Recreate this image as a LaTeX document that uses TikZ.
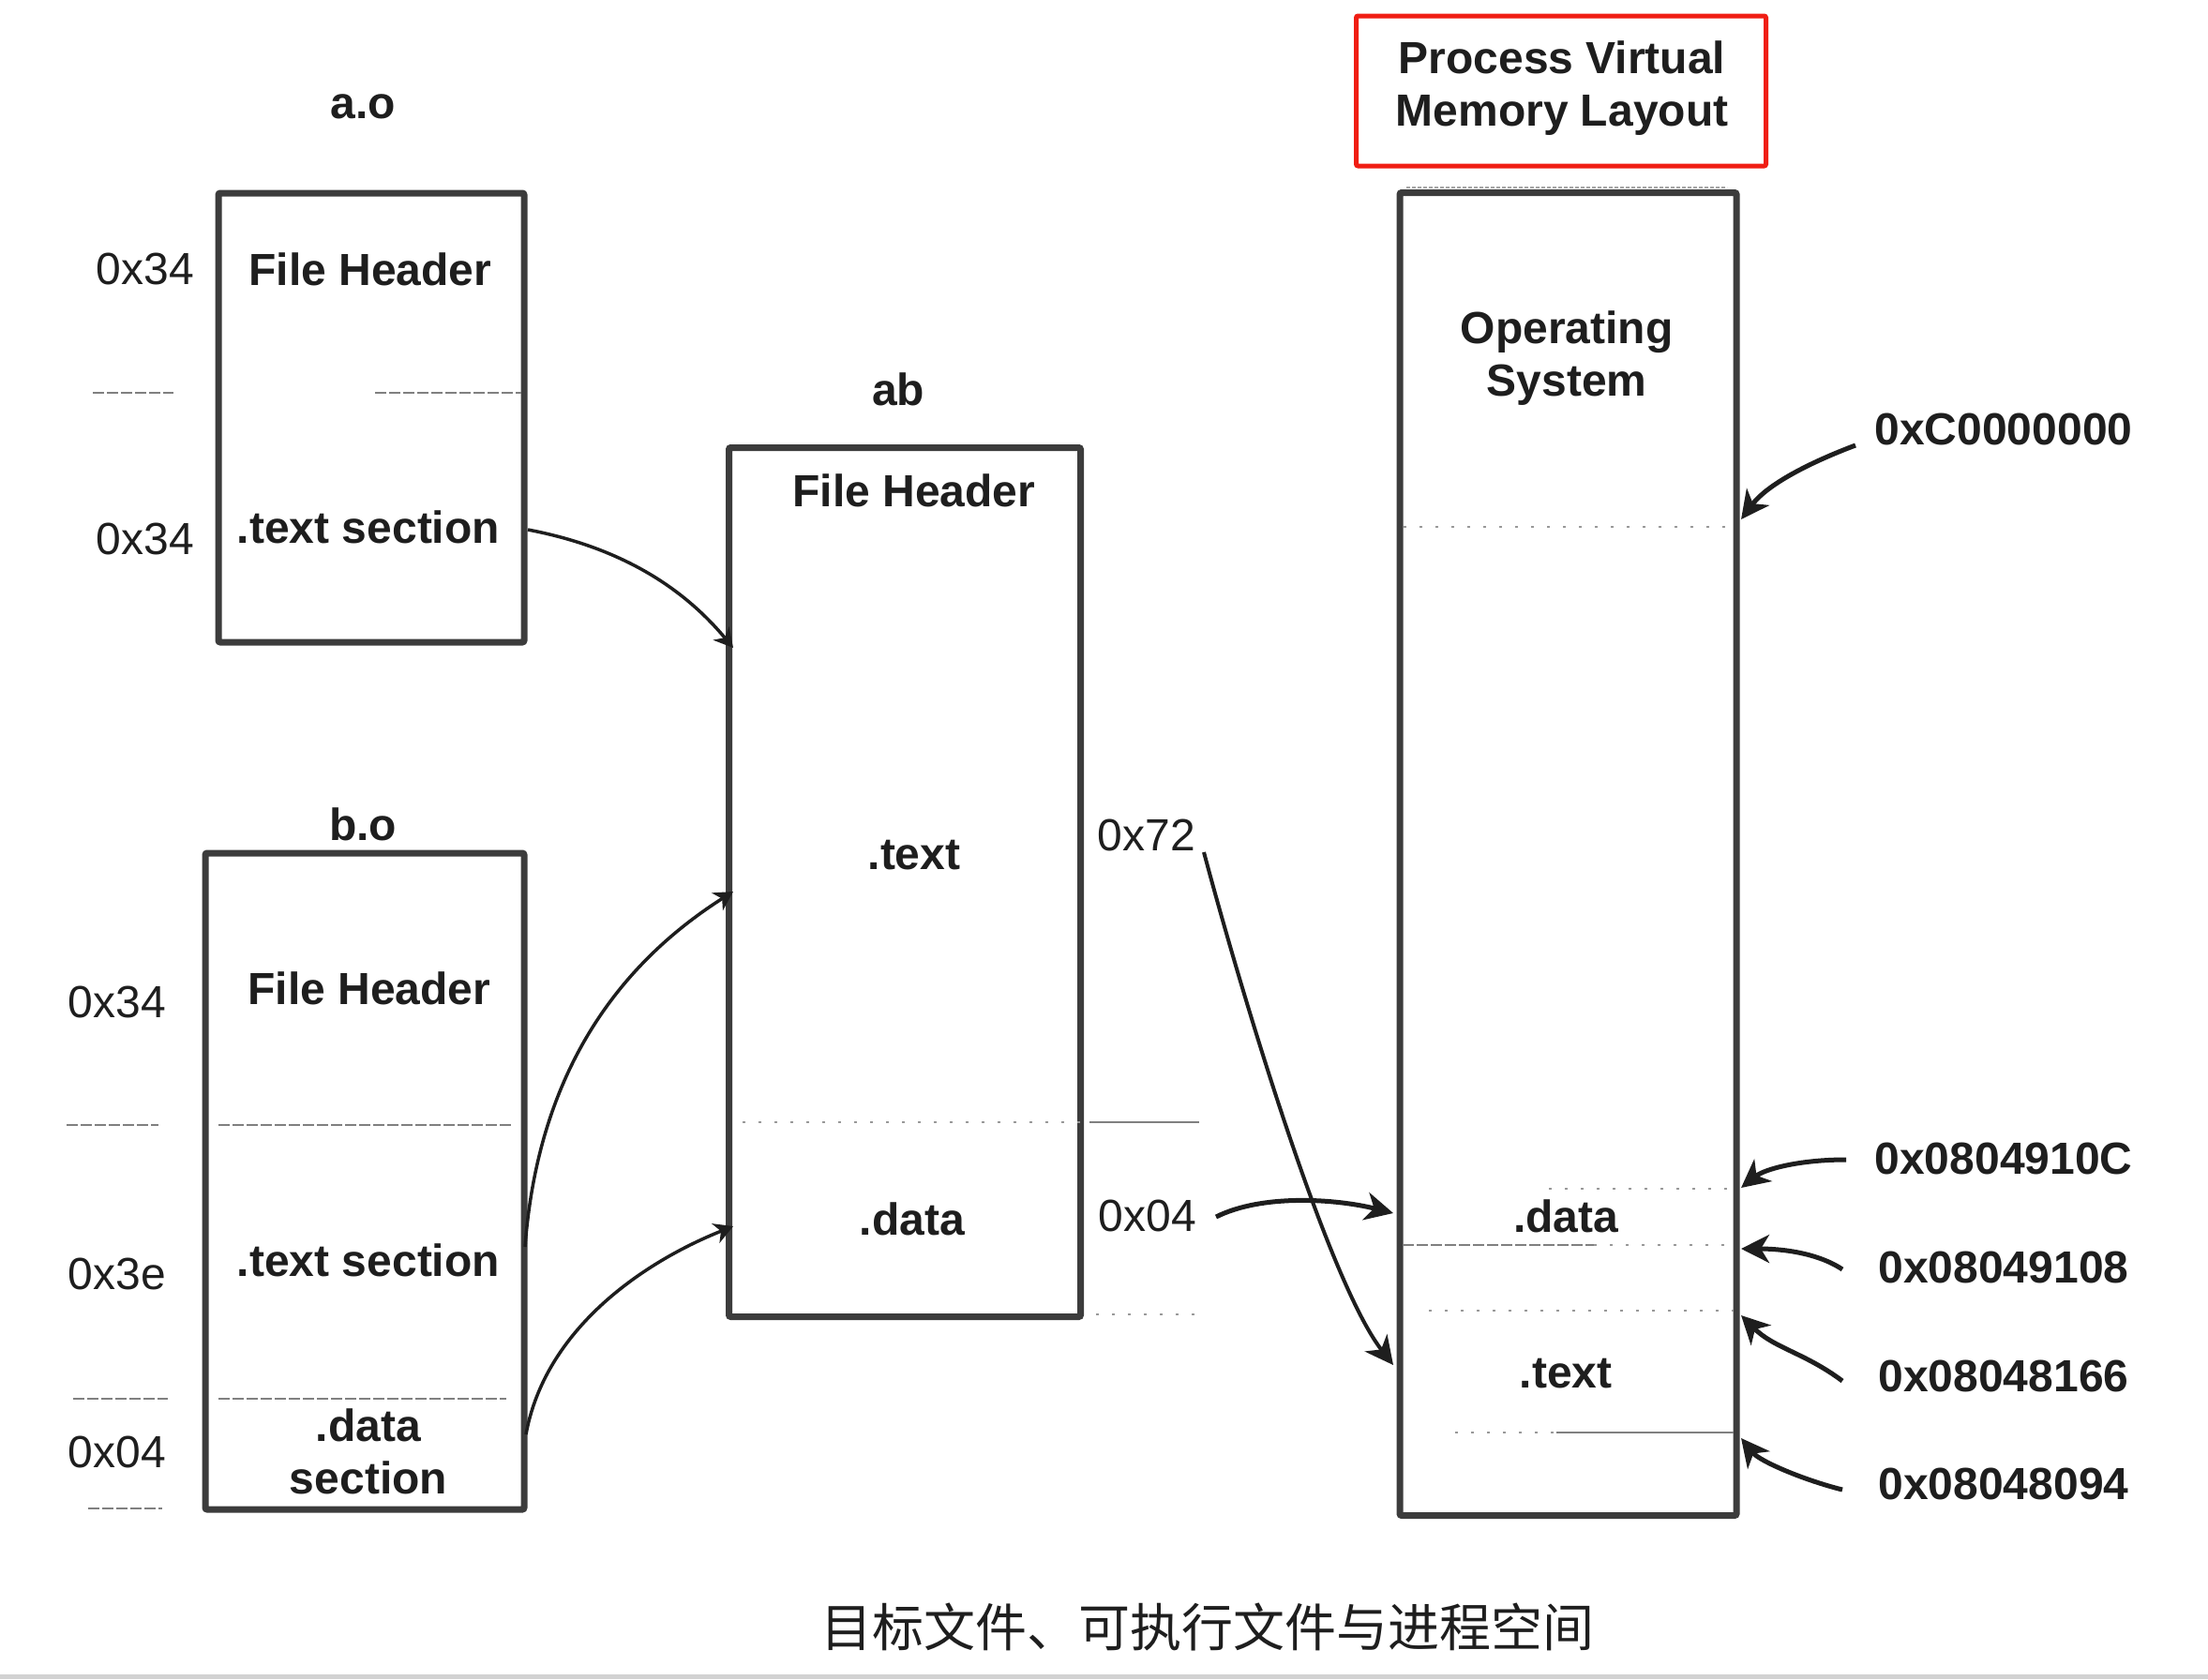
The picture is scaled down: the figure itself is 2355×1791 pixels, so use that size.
\documentclass[tikz,border=0pt]{standalone}
\usepackage{fontspec}
\setmainfont{Liberation Sans}
\newfontfamily\cjk{Noto Sans CJK SC}
\usetikzlibrary{arrows.meta}
\definecolor{boxline}{HTML}{3C3C3C}
\definecolor{ink}{HTML}{1E1E1E}
\definecolor{redline}{HTML}{F01E14}
\begin{document}
\begin{tikzpicture}[x=1pt,y=-1pt,
 box/.style={draw=boxline, line width=7pt, rounded corners=2pt, inner sep=0pt},
 lbl/.style={font=\fontsize{48}{56}\selectfont\bfseries, text=ink, inner sep=0pt, align=center},
 addr/.style={font=\fontsize{48}{56}\selectfont, text=ink, inner sep=0pt},
 raddr/.style={font=\fontsize{48}{56}\selectfont\bfseries, text=ink, inner sep=0pt},
 div/.style={draw=gray, line width=2.5pt, dash pattern=on 12pt off 3pt},
 sdiv/.style={draw=gray!80, line width=2.5pt, dash pattern=on 3pt off 14pt},
 conn/.style={draw=ink, line width=5pt, -{Stealth[length=30pt,width=30pt,inset=9pt]}},
 lconn/.style={draw=ink, line width=3.5pt, -{Stealth[length=20pt,width=22pt,inset=6pt]}},
]
\useasboundingbox (0,0) rectangle (2355,1791);
\fill[white] (0,0) rectangle (2355,1791);
\fill[gray!35] (0,1786) rectangle (2355,1791);

% ---- a.o ----
\node[lbl] (aolbl) at (387,114) {a.o};
\node[box, minimum width=326pt, minimum height=479pt] (ao) at (396,445.5) {};
\node[lbl] (aofh) at (395,287) {File Header};
\node[lbl] (aotx) at (393,562) {.text section};
\node[addr] (ao1) at (155,287) {0x34};
\node[addr] (ao2) at (155,575) {0x34};
\draw[div] (400,419) -- (556,419);
\draw[div] (99,419) -- (185,419);

% ---- b.o ----
\node[lbl] (bolbl) at (387,879) {b.o};
\node[box, minimum width=340pt, minimum height=700pt] (bo) at (389,1260) {};
\node[lbl] (bofh) at (394,1054) {File Header};
\node[lbl] (botx) at (393,1344) {.text section};
\node[lbl] (boda) at (393,1548) {.data\\section};
\node[addr] (bo1) at (125,1069) {0x34};
\node[addr] (bo2) at (125,1359) {0x3e};
\node[addr] (bo3) at (125,1549) {0x04};
\draw[div] (233,1200) -- (545,1200);
\draw[div] (71,1200) -- (169,1200);
\draw[div] (233,1492) -- (540,1492);
\draw[div] (78,1492) -- (179,1492);
\draw[div] (94,1609) -- (173,1609);

% ---- ab ----
\node[lbl] (ablbl) at (958,415) {ab};
\node[box, minimum width=375pt, minimum height=927pt] (ab) at (965,941) {};
\node[lbl] (abfh) at (975,523) {File Header};
\node[lbl] (abtx) at (975,912) {.text};
\node[lbl] (abda) at (973,1300) {.data};
\node[addr] (ab72) at (1223,891) {0x72};
\node[addr] (ab04) at (1224,1297) {0x04};
\draw[sdiv] (792,1197) -- (1162,1197);
\draw[draw=gray, line width=2.5pt] (1162,1197) -- (1279,1197);
\draw[sdiv] (1169,1402) -- (1277,1402);

% ---- process virtual memory ----
\node[draw=redline, line width=5pt, rounded corners=2pt, minimum width=437pt, minimum height=160pt] (pvt) at (1665,97) {};
\node[lbl] (pvtx) at (1666,94) {Process Virtual\\Memory Layout};
\draw[gray!70, line width=2pt, dash pattern=on 4pt off 2pt] (1500,200) -- (1842,200);
\node[box, minimum width=359pt, minimum height=1411pt] (vm) at (1672.5,911) {};
\node[lbl] (vmos) at (1671,382) {Operating\\System};
\node[lbl] (vmda) at (1670,1297) {.data};
\node[lbl] (vmtx) at (1670,1465) {.text};
\draw[sdiv] (1497,562) -- (1849,562);
\draw[sdiv] (1652,1268) -- (1849,1268);
\draw[div] (1496,1328) -- (1700,1328);
\draw[sdiv] (1700,1328) -- (1849,1328);
\draw[sdiv] (1524,1398) -- (1849,1398);
\draw[sdiv] (1552,1528) -- (1660,1528);
\draw[draw=gray, line width=2.5pt] (1660,1528) -- (1849,1528);

\node[raddr] (ra0) at (2137,458) {0xC0000000};
\node[raddr] (ra1) at (2137,1236) {0x0804910C};
\node[raddr] (ra2) at (2137,1352) {0x08049108};
\node[raddr] (ra3) at (2137,1468) {0x08048166};
\node[raddr] (ra4) at (2137,1583) {0x08048094};

% ---- connector end points ----
\coordinate (s1) at (563,565);   \coordinate (e1) at (782,691);
\coordinate (s2) at (560,1330);  \coordinate (e2) at (782,951);
\coordinate (s3) at (561,1530);  \coordinate (e3) at (782,1308);
\coordinate (s4) at (1284,909);  \coordinate (e4) at (1486,1456);
\coordinate (s5) at (1297,1298); \coordinate (e5) at (1486,1294);
\coordinate (s6) at (1979,475);  \coordinate (e6) at (1857,554);
\coordinate (s7) at (1969,1237); \coordinate (e7) at (1857,1267);
\coordinate (s8) at (1965,1354); \coordinate (e8) at (1857,1332);
\coordinate (s9) at (1965,1473); \coordinate (e9) at (1857,1403);
\coordinate (s10) at (1965,1589); \coordinate (e10) at (1857,1534);

\draw[lconn] (s1) .. controls +(105,20) and +(-50,-60) .. (e1);
\draw[lconn] (s2) .. controls +(15,-200) and +(-110,70) .. (e2);
\draw[lconn] (s3) .. controls +(20,-110) and +(-100,40) .. (e3);
\draw[conn, line width=4pt] (s4) .. controls +(40,150) and +(-70,-90) .. (e4);
\draw[conn] (s5) .. controls +(50,-25) and +(-60,-15) .. (e5);
\draw[conn] (s6) .. controls +(-40,15) and +(30,-40) .. (e6);
\draw[conn] (s7) .. controls +(-50,0) and +(25,-20) .. (e7);
\draw[conn] (s8) .. controls +(-30,-20) and +(35,0) .. (e8);
\draw[conn] (s9) .. controls +(-40,-30) and +(35,35) .. (e9);
\draw[conn] (s10) .. controls +(-40,-10) and +(20,25) .. (e10);

% ---- caption ----
\node[inner sep=0pt, text=ink, font=\cjk\fontsize{55}{62}\selectfont] (cap) at (1288,1735) {目标文件、可执行文件与进程空间};
\end{tikzpicture}
\end{document}
